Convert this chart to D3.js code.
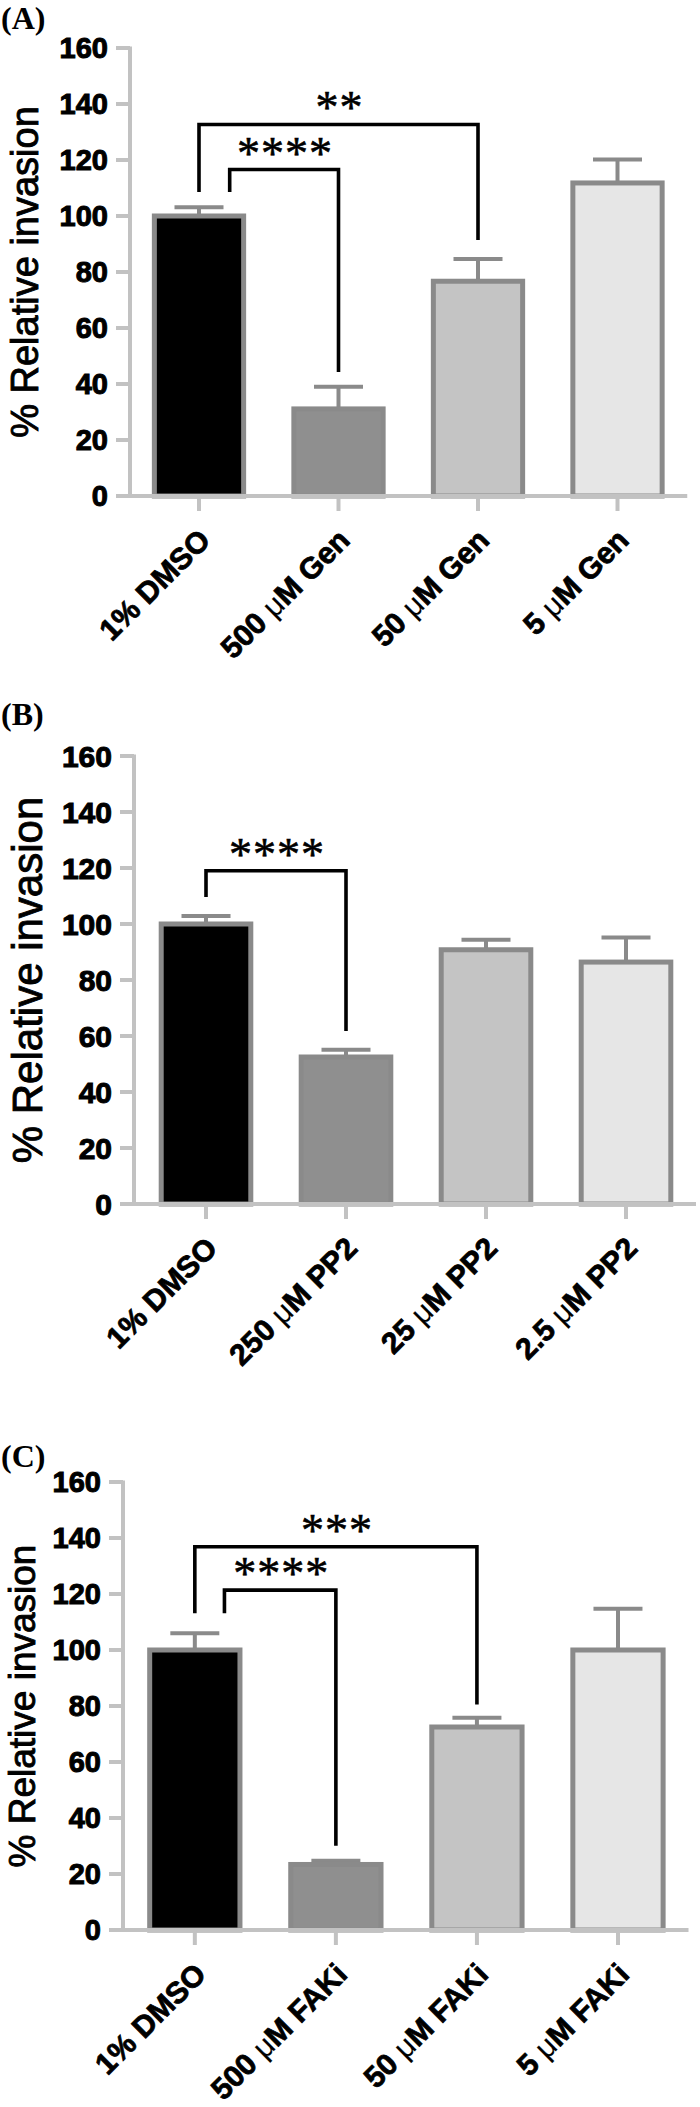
<!DOCTYPE html>
<html><head><meta charset="utf-8">
<script src="https://cdn.jsdelivr.net/npm/d3@7"></script>
<style>body{margin:0;background:#fff} svg{display:block}</style>
</head><body>
<svg id="chart" width="700" height="2107"></svg>
<script>
// ---------- data ----------
const yTicks = [0, 20, 40, 60, 80, 100, 120, 140, 160];
const yTitle = "% Relative invasion";

const categoriesA = ["1% DMSO", "500 μM Gen", "50 μM Gen", "5 μM Gen"];
const meansA = [100, 31.1, 76.7, 111.8];
const errorsA = [3.1, 7.9, 7.9, 8.4];
const bracketsA = [
  { from: 0, to: 2, shift: 0, top: 132.7, leftEnd: 108.6, rightEnd: 91.4, stars: "**" },
  { from: 0, to: 1, shift: 0.22, top: 116.6, leftEnd: 108.6, rightEnd: 44.3, stars: "****" }
];

const categoriesB = ["1% DMSO", "250 μM PP2", "25 μM PP2", "2.5 μM PP2"];
const meansB = [100, 52.5, 90.8, 86.4];
const errorsB = [2.9, 2.6, 3.6, 8.8];
const bracketsB = [
  { from: 0, to: 1, shift: 0, top: 119.0, leftEnd: 109.6, rightEnd: 61.8, stars: "****" }
];

const categoriesC = ["1% DMSO", "500 μM FAKi", "50 μM FAKi", "5 μM FAKi"];
const meansC = [100, 23.4, 72.5, 100];
const errorsC = [6.0, 1.3, 3.3, 14.7];
const bracketsC = [
  { from: 0, to: 2, shift: 0, top: 136.9, leftEnd: 113.1, rightEnd: 80.5, stars: "***" },
  { from: 0, to: 1, shift: 0.21, top: 121.4, leftEnd: 113.1, rightEnd: 30.1, stars: "****" }
];

const panelLabels = ["(A)", "(B)", "(C)"];
const barFills = ["#000000", "#8f8f8f", "#c4c4c4", "#e6e6e6"];

// ---------- layout ----------
const panels = [
  { label: panelLabels[0], cats: categoriesA, means: meansA, errs: errorsA, brackets: bracketsA,
    axisX: 130, y0: 496, y1: 48, xr: [129.25, 687.25], titleX: 38, titleSize: 38, tickSize: 29, labelXY: [1, 29] },
  { label: panelLabels[1], cats: categoriesB, means: meansB, errs: errorsB, brackets: bracketsB,
    axisX: 134, y0: 1204, y1: 756, xr: [136, 696], titleX: 42, titleSize: 42, tickSize: 30, labelXY: [1, 725] },
  { label: panelLabels[2], cats: categoriesC, means: meansC, errs: errorsC, brackets: bracketsC,
    axisX: 123, y0: 1930, y1: 1482, xr: [124.3, 688.5], titleX: 35, titleSize: 37, tickSize: 29, labelXY: [1, 1467] }
];

const AXIS = "#c2c2c2", EDGE = "#8a8a8a";
const SANS = "'Liberation Sans', Arial, Helvetica, sans-serif";
const SERIF = "'Liberation Serif', 'Times New Roman', Times, serif";

const svg = d3.select("#chart");

panels.forEach(p => {
  const g = svg.append("g");
  const y = d3.scaleLinear().domain([0, 160]).range([p.y0, p.y1]);
  const x = d3.scaleBand().domain(p.cats).range(p.xr).paddingInner(0.36).paddingOuter(0.18);
  const cx = c => x(c) + x.bandwidth() / 2;
  const step = x.step();

  // panel label
  g.append("text").attr("x", p.labelXY[0]).attr("y", p.labelXY[1])
    .style("font-family", SERIF).style("font-weight", "bold").style("font-size", "32px")
    .text(p.label);

  // error bars (upper)
  const eb = g.append("g").attr("stroke", EDGE).attr("stroke-width", 4).attr("fill", "none");
  p.cats.forEach((c, i) => {
    const yt = y(p.means[i] + p.errs[i]);
    eb.append("line").attr("x1", cx(c)).attr("x2", cx(c)).attr("y1", y(p.means[i])).attr("y2", yt);
    eb.append("line").attr("x1", cx(c) - 24.5).attr("x2", cx(c) + 24.5).attr("y1", yt).attr("y2", yt);
  });

  // bars
  g.append("g").selectAll("rect").data(p.cats).join("rect")
    .attr("x", c => x(c)).attr("width", x.bandwidth())
    .attr("y", (c, i) => y(p.means[i])).attr("height", (c, i) => y(0) - y(p.means[i]))
    .attr("fill", (c, i) => barFills[i]).attr("stroke", EDGE).attr("stroke-width", 5);

  // y axis
  const ya = g.append("g");
  ya.append("line").attr("x1", p.axisX).attr("x2", p.axisX).attr("y1", y(160) - 1.5).attr("y2", y(0))
    .attr("stroke", AXIS).attr("stroke-width", 4);
  ya.selectAll("line.tick").data(yTicks).join("line").attr("class", "tick")
    .attr("x1", p.axisX - 14).attr("x2", p.axisX).attr("y1", d => y(d)).attr("y2", d => y(d))
    .attr("stroke", AXIS).attr("stroke-width", 4);
  ya.selectAll("text").data(yTicks).join("text")
    .attr("x", p.axisX - 22).attr("y", d => y(d)).attr("dy", "0.36em")
    .attr("text-anchor", "end")
    .style("font-family", SANS).style("font-weight", "bold").style("font-size", p.tickSize + "px")
    .attr("fill", "#000").attr("stroke", "#000").attr("stroke-width", 1)
    .text(d => d);

  // x axis
  const xa = g.append("g");
  xa.append("line").attr("x1", p.axisX - 14).attr("x2", p.xr[1]).attr("y1", y(0)).attr("y2", y(0))
    .attr("stroke", AXIS).attr("stroke-width", 4);
  xa.selectAll("line.tick").data(p.cats).join("line").attr("class", "tick")
    .attr("x1", cx).attr("x2", cx).attr("y1", y(0)).attr("y2", y(0) + 15)
    .attr("stroke", AXIS).attr("stroke-width", 4);
  xa.selectAll("text.xl").data(p.cats).join("text").attr("class", "xl")
    .attr("x", c => cx(c) + 13).attr("y", y(0) + 46)
    .attr("transform", c => `rotate(-45 ${cx(c) + 13} ${y(0) + 46})`)
    .attr("text-anchor", "end")
    .style("font-family", SANS).style("font-weight", "bold").style("font-size", "30px")
    .attr("fill", "#000").attr("stroke", "#000").attr("stroke-width", 0.8)
    .each(function (c) {
      const t = d3.select(this);
      c.split(/(μ)/).forEach(part => {
        if (!part) return;
        const s = t.append("tspan").text(part);
        if (part === "μ") s.style("font-weight", "normal").attr("stroke-width", 0.2);
      });
    });

  // y title
  g.append("text")
    .attr("transform", `translate(${p.titleX},${y(80)}) rotate(-90)`)
    .attr("text-anchor", "middle")
    .style("font-family", SANS).style("font-size", p.titleSize + "px")
    .attr("fill", "#000").attr("stroke", "#000").attr("stroke-width", 0.9)
    .text(yTitle);

  // significance brackets
  p.brackets.forEach(b => {
    const xl = cx(p.cats[b.from]) + b.shift * step;
    const xr = cx(p.cats[b.to]);
    const yt = y(b.top);
    g.append("path")
      .attr("d", `M${xl},${y(b.leftEnd)}V${yt}H${xr}V${y(b.rightEnd)}`)
      .attr("fill", "none").attr("stroke", "#000").attr("stroke-width", 3.6);
    g.append("text").attr("x", (xl + xr) / 2 + 1).attr("y", yt - 1)
      .attr("text-anchor", "middle")
      .style("font-family", SERIF).style("font-size", "46px")
      .attr("letter-spacing", 1).attr("fill", "#000")
      .attr("stroke", "#000").attr("stroke-width", 0.6).text(b.stars);
  });
});
</script>
</body></html>
